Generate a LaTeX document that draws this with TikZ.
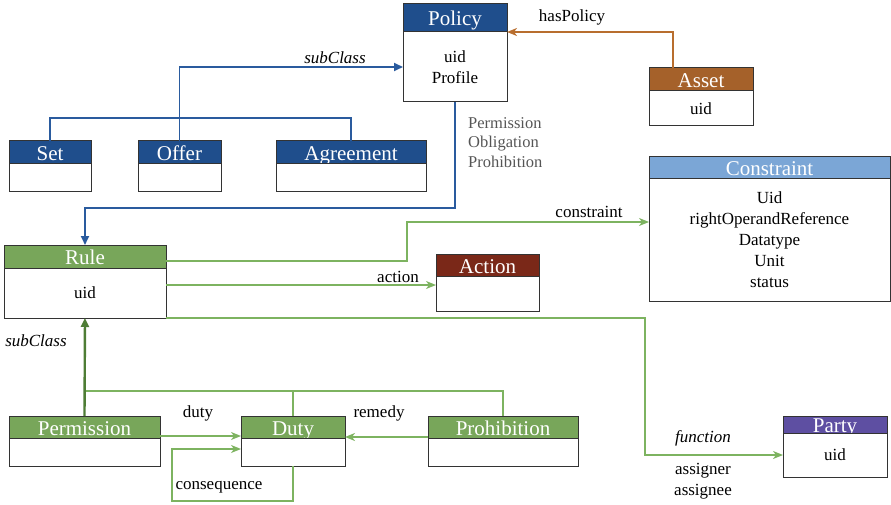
\documentclass[tikz,border=0pt]{standalone}
\usepackage{fontspec}
\setmainfont{Liberation Serif}
\usetikzlibrary{arrows.meta,calc}
\definecolor{hblue}{HTML}{1F4E8C}
\definecolor{hlblue}{HTML}{7BA6D6}
\definecolor{hbrown}{HTML}{A5612A}
\definecolor{hred}{HTML}{7A2818}
\definecolor{hgreen}{HTML}{78A65A}
\definecolor{hpurple}{HTML}{5E4FA2}
\definecolor{bordc}{HTML}{333333}
\definecolor{lblue}{HTML}{2A5B9E}
\definecolor{lorange}{HTML}{B86E2E}
\definecolor{lgreen}{HTML}{7DB360}
\definecolor{ldgreen}{HTML}{4E7D35}
\definecolor{lgray}{HTML}{555555}
\newcommand\myhdrfont{\fontsize{21}{22}\selectfont}
\newcommand\mybodyfont{\fontsize{17}{21}\selectfont}
\begin{document}
\begin{tikzpicture}[x=1pt,y=-1pt,
  hdr/.style={draw=bordc, line width=1pt, text=white, font=\myhdrfont, inner sep=0pt, outer sep=0pt, anchor=north west, text height=16pt, text depth=0pt},
  bdy/.style={draw=bordc, line width=1pt, fill=white, font=\mybodyfont, align=center, inner sep=0pt, outer sep=0pt, anchor=north west},
  lbl/.style={font=\mybodyfont, inner sep=0pt, align=center},
  bl/.style={draw=lblue, line width=1.8pt},
  orl/.style={draw=lorange, line width=1.8pt},
  gl/.style={draw=lgreen, line width=1.6pt},
  blarrow/.style={-{Triangle[length=9pt,width=8pt]}},
  garrow/.style={-{Stealth[length=10pt,width=8pt,inset=3pt]}}
]
\useasboundingbox (0,0) rectangle (891,505);

% ---------- class boxes ----------
\node[hdr, fill=hblue, minimum width=104pt, minimum height=28pt] (policyH) at (403,4) {Policy};
\node[bdy, minimum width=104pt, minimum height=70pt] (policy) at (403,32) {uid\\Profile};

\node[hdr, fill=hblue, minimum width=82pt, minimum height=23pt] (setH) at (9,141) {Set};
\node[bdy, minimum width=82pt, minimum height=28pt] (set) at (9,164) {};

\node[hdr, fill=hblue, minimum width=83pt, minimum height=23pt] (offerH) at (138,141) {Offer};
\node[bdy, minimum width=83pt, minimum height=28pt] (offer) at (138,164) {};

\node[hdr, fill=hblue, minimum width=150pt, minimum height=23pt] (agreeH) at (276,141) {Agreement};
\node[bdy, minimum width=150pt, minimum height=28pt] (agree) at (276,164) {};

\node[hdr, fill=hbrown, minimum width=104pt, minimum height=23pt] (assetH) at (649,68) {Asset};
\node[bdy, minimum width=104pt, minimum height=35pt] (asset) at (649,91) {uid};

\node[hdr, fill=hlblue, minimum width=241pt, minimum height=22pt] (constrH) at (649,157) {Constraint};
\node[bdy, minimum width=241pt, minimum height=122pt] (constr) at (649,179) {Uid\\rightOperandReference\\Datatype\\Unit\\status};

\node[hdr, fill=hgreen, minimum width=162pt, minimum height=23pt] (ruleH) at (4,245) {Rule};
\node[bdy, minimum width=162pt, minimum height=50pt] (rule) at (4,268) {uid};

\node[hdr, fill=hred, minimum width=103pt, minimum height=22pt] (actionH) at (436,254) {Action};
\node[bdy, minimum width=103pt, minimum height=35pt] (action) at (436,276) {};

\node[hdr, fill=hpurple, minimum width=104pt, minimum height=17pt, text height=15pt] (partyH) at (783,416) {Party};
\node[bdy, minimum width=104pt, minimum height=44pt] (party) at (783,433) {uid};

\node[hdr, fill=hgreen, minimum width=151pt, minimum height=22pt] (permH) at (9,416) {Permission};
\node[bdy, minimum width=151pt, minimum height=28pt] (perm) at (9,438) {};

\node[hdr, fill=hgreen, minimum width=104pt, minimum height=22pt] (dutyH) at (241,416) {Duty};
\node[bdy, minimum width=104pt, minimum height=28pt] (duty) at (241,438) {};

\node[hdr, fill=hgreen, minimum width=150pt, minimum height=22pt] (prohH) at (428,416) {Prohibition};
\node[bdy, minimum width=150pt, minimum height=28pt] (proh) at (428,438) {};

% ---------- connectors ----------
% subclasses of Policy
\draw[bl] (setH.north) |- (agreeH.north |- 0,118) -- (agreeH.north);
\draw[bl, blarrow] (offerH.north) |- (policy.west);
% Policy -> Rule
\draw[bl, blarrow] (policy.south) -- (policy.south |- 0,208) -| (ruleH.north);
% Asset -> Policy
\coordinate (assetOut) at ($(assetH.north west)+(24,0)$);
\draw[orl, garrow] (assetOut) |- (policy.north east);
% Rule -> Constraint
\draw[gl, garrow] (ruleH.east |- 0,261) -- (407,261) -- (407,222) -- (constr.west |- 0,222);
% Rule -> Action
\draw[gl, garrow] (rule.east |- 0,285) -- (action.west |- 0,285);
% Rule -> Party
\draw[gl, garrow] (rule.south east) -- (645,318) |- (party.west);
% Permission/Duty/Prohibition subclass of Rule
\draw[gl] (permH.north |- 0,391) -| (prohH.north);
\draw[gl] (dutyH.north) -- (dutyH.north |- 0,391);
\draw[draw=ldgreen, line width=2.4pt, blarrow] (permH.north) -- (rule.south);
% duty, remedy
\draw[gl, garrow] (permH.east |- 0,436) -- (dutyH.west |- 0,436);
\draw[gl, garrow] (prohH.west |- 0,437) -- (dutyH.east |- 0,437);
% consequence
\draw[gl, garrow] (duty.south) -- (duty.south |- 0,501) -- (172,501) -- (172,449) -- (duty.west |- 0,449);

% ---------- labels ----------
\node[lbl] (lSub1) at (335,58) {\textit{subClass}};
\node[lbl] (lHas) at (572,17) {hasPolicy};
\node[lbl, text=lgray, anchor=north west, align=left, font=\fontsize{16.5}{19.5}\selectfont] (lPOP) at (468,117) {Permission\\Obligation\\Prohibition};
\node[lbl] (lConstr) at (589,212) {constraint};
\node[lbl] (lAction) at (398,277) {action};
\node[lbl] (lSub2) at (36,341) {\textit{subClass}};
\node[lbl] (lDuty) at (198,413) {duty};
\node[lbl] (lRemedy) at (379,413) {remedy};
\node[lbl] (lCons) at (219,487) {consequence};
\node[lbl] (lFunc) at (703,438) {\textit{function}};
\node[lbl] (lAssign) at (703,481) {assigner\\assignee};
\end{tikzpicture}
\end{document}
